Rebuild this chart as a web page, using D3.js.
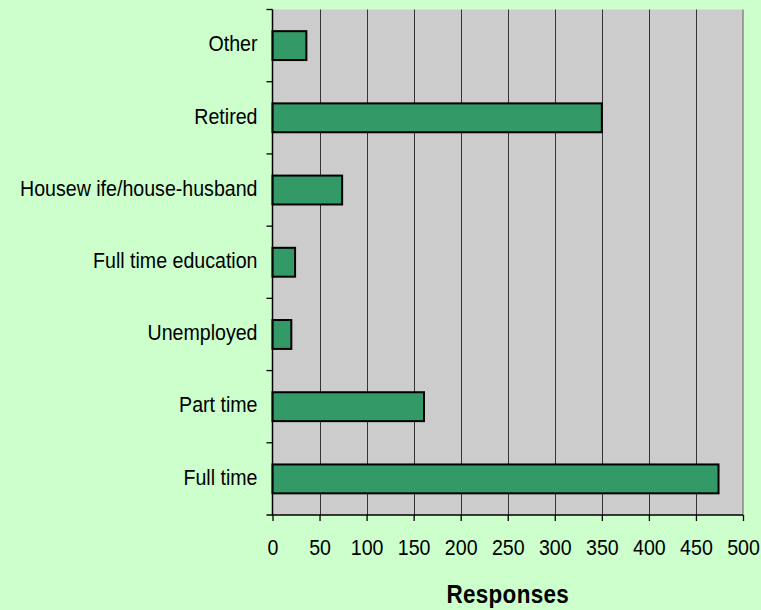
<!DOCTYPE html>
<html lang="en">
  <head>
    <meta charset="utf-8" />
    <title>Responses</title>
    <script src="https://cdnjs.cloudflare.com/ajax/libs/d3/7.8.5/d3.min.js"></script>
    <style>
      body {
        margin: 0;
        background-color: #ccffcc;
      }
      .lbl {
        font-family: "Liberation Sans", Arial, sans-serif;
        font-size: 19.6px;
        fill: #000;
      }
      .title {
        font-family: "Liberation Sans", Arial, sans-serif;
        font-size: 22.5px;
        font-weight: bold;
        letter-spacing: 0.3px;
      }
    </style>
  </head>
  <body>
    <svg id="chart" width="761" height="610"></svg>
    <script>
      // categories top to bottom
      const categories = [
        "Other",
        "Retired",
        "Housew ife/house-husband",
        "Full time education",
        "Unemployed",
        "Part time",
        "Full time",
      ];
      const responses = [36, 350, 74, 24, 20, 161, 474];
      const ticks = [0, 50, 100, 150, 200, 250, 300, 350, 400, 450, 500];

      const svg = d3.select("#chart");
      const margin = { top: 9.5, right: 18, bottom: 95, left: 272.5 };
      const w = 761, h = 610;
      const stretch = 1.13; // text in the original is drawn a bit tall

      const x = d3.scaleLinear().domain([0, 500]).range([margin.left, w - margin.right]);
      const y = d3
        .scaleBand()
        .domain(categories)
        .range([margin.top, h - margin.bottom])
        .paddingInner(0.6)
        .paddingOuter(0.3);
      const step = y.step();

      // plot area
      svg
        .append("rect")
        .attr("x", x(0))
        .attr("y", margin.top)
        .attr("width", x(500) - x(0))
        .attr("height", h - margin.bottom - margin.top)
        .attr("fill", "#cccccc");

      // gridlines
      svg
        .append("g")
        .selectAll("line")
        .data(ticks.slice(1, -1))
        .join("line")
        .attr("x1", (d) => Math.round(x(d)) + 0.5)
        .attr("x2", (d) => Math.round(x(d)) + 0.5)
        .attr("y1", margin.top)
        .attr("y2", h - margin.bottom)
        .attr("stroke", "#333")
        .attr("stroke-width", 1);

      // right border
      svg
        .append("line")
        .attr("x1", x(500))
        .attr("x2", x(500))
        .attr("y1", margin.top)
        .attr("y2", h - margin.bottom)
        .attr("stroke", "#888")
        .attr("stroke-width", 1.5);

      // bars
      svg
        .append("g")
        .selectAll("rect")
        .data(responses)
        .join("rect")
        .attr("x", x(0))
        .attr("y", (d, i) => y(categories[i]))
        .attr("width", (d) => x(d) - x(0))
        .attr("height", y.bandwidth())
        .attr("fill", "#339966")
        .attr("stroke", "#000")
        .attr("stroke-width", 2);

      // x axis
      const xAxis = svg
        .append("g")
        .attr("transform", `translate(0,${h - margin.bottom})`)
        .call(d3.axisBottom(x).tickValues(ticks).tickSize(6).tickSizeOuter(0));
      xAxis.select(".domain").remove();
      xAxis.selectAll(".tick line").attr("stroke", "#000").attr("stroke-width", 1.3);
      xAxis
        .selectAll("text")
        .attr("class", "lbl")
        .attr("font-family", null)
        .attr("font-size", null)
        .attr("y", 0)
        .attr("dy", 0)
        .attr("transform", `translate(0,40) scale(1,${stretch})`);
      xAxis
        .append("line")
        .attr("x1", x(0) - 6)
        .attr("x2", x(500))
        .attr("stroke", "#000")
        .attr("stroke-width", 1.5);

      // y axis: ticks at band boundaries
      const yg = svg.append("g");
      yg.append("line")
        .attr("x1", x(0))
        .attr("x2", x(0))
        .attr("y1", margin.top)
        .attr("y2", h - margin.bottom)
        .attr("stroke", "#000")
        .attr("stroke-width", 1.5);
      yg.selectAll("line.tk")
        .data(d3.range(categories.length))
        .join("line")
        .attr("class", "tk")
        .attr("x1", x(0) - 6)
        .attr("x2", x(0))
        .attr("y1", (i) => margin.top + i * step)
        .attr("y2", (i) => margin.top + i * step)
        .attr("stroke", "#000")
        .attr("stroke-width", 1.3);
      yg.selectAll("text")
        .data(categories)
        .join("text")
        .attr("class", "lbl")
        .attr("text-anchor", "end")
        .attr(
          "transform",
          (d) => `translate(${x(0) - 15},${y(d) + y.bandwidth() / 2 + 5.8}) scale(1,${stretch})`
        )
        .text((d) => d);

      // axis title
      svg
        .append("text")
        .attr("class", "title")
        .attr("text-anchor", "middle")
        .attr("transform", `translate(${(x(0) + x(500)) / 2},603) scale(1,1.12)`)
        .text("Responses");
    </script>
  </body>
</html>
